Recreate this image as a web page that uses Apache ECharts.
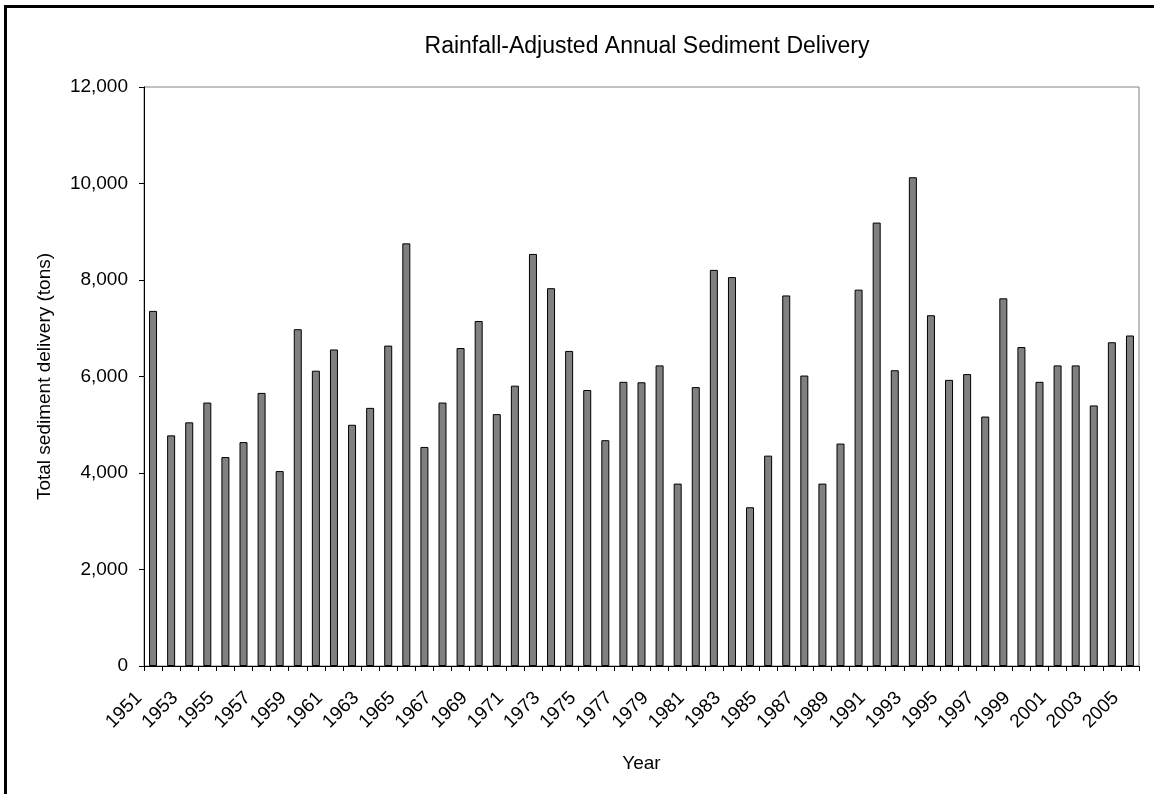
<!DOCTYPE html>
<html>
<head>
<meta charset="utf-8">
<script src="https://cdn.jsdelivr.net/npm/echarts@6/dist/echarts.min.js"></script>
<style>
  html, body { margin: 0; padding: 0; background: #fff; }
  #chart { position: absolute; left: 0; top: 0; width: 1154px; height: 794px; }
  .frame {
    position: absolute; left: 4px; top: 5px; width: 1150px; height: 789px;
    border-left: 3px solid #000; border-top: 3px solid #000;
    box-sizing: border-box; pointer-events: none;
  }
</style>
</head>
<body>
<div id="chart"></div>
<div class="frame"></div>
<script>
// years 1951 - 2005
var years = [];
for (var y = 1951; y <= 2005; y++) years.push(String(y));

// total sediment delivery (tons)
var sediment = [
  7360, 4780, 5050, 5460, 4330, 4640, 5660, 4040, 6980, 6120,
  6560, 5000, 5350, 6640, 8760, 4540, 5460, 6590, 7150, 5220,
  5810, 8540, 7830, 6530, 5720, 4680, 5890, 5880, 6230, 3780,
  5780, 8210, 8060, 3290, 4360, 7680, 6020, 3780, 4610, 7800,
  9190, 6130, 10130, 7270, 5930, 6050, 5170, 7620, 6610, 5890,
  6230, 6230, 5400, 6710, 6850
];

var yTicks = [0, 2000, 4000, 6000, 8000, 10000, 12000];

var myChart = echarts.init(document.getElementById('chart'));

var font = 'Liberation Sans, Arial, sans-serif';

var option = {
  animation: false,
  title: {
    text: 'Rainfall-Adjusted Annual Sediment Delivery',
    left: 642,
    textAlign: 'center',
    top: 30,
    textStyle: { fontFamily: font, fontSize: 23, fontWeight: 'normal', color: '#000' }
  },
  grid: {
    left: 144, right: 15, top: 87, bottom: 128,
    show: true, borderColor: '#808080', borderWidth: 1, backgroundColor: 'transparent'
  },
  xAxis: {
    type: 'category',
    data: years,
    name: 'Year',
    nameLocation: 'middle',
    nameGap: 88,
    nameTextStyle: { fontFamily: font, fontSize: 19, color: '#000' },
    axisLine: { lineStyle: { color: '#000', width: 1 } },
    axisTick: { show: true, interval: 0, length: 5, lineStyle: { color: '#000' } },
    axisLabel: {
      interval: 1, rotate: 45, margin: 15, padding: [0, 20, 0, 0],
      fontFamily: font, fontSize: 19, color: '#000'
    },
    splitLine: { show: false }
  },
  yAxis: {
    type: 'value',
    min: yTicks[0],
    max: yTicks[yTicks.length - 1],
    interval: 2000,
    name: 'Total sediment delivery (tons)',
    nameLocation: 'middle',
    nameGap: 90,
    nameTextStyle: { fontFamily: font, fontSize: 19, color: '#000' },
    axisLine: { show: true, lineStyle: { color: '#000', width: 1 } },
    axisTick: { show: true, length: 5, lineStyle: { color: '#000' } },
    axisLabel: {
      margin: 16, fontFamily: font, fontSize: 19, color: '#000',
      formatter: function (v) { return v.toLocaleString('en-US'); }
    },
    splitLine: { show: false }
  },
  series: [{
    type: 'bar',
    data: sediment,
    barWidth: 8,
    itemStyle: { color: '#808080', borderColor: '#000', borderWidth: 1 }
  }]
};

myChart.setOption(option);
</script>
</body>
</html>
